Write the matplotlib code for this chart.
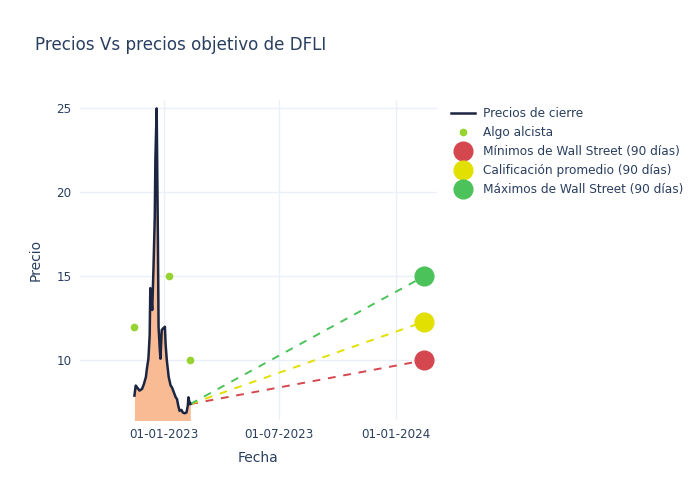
"""
Precios de cierre de DFLI frente a los precios objetivo de analistas.
"""

import matplotlib

matplotlib.use("Agg")
import matplotlib.dates as mdates
import matplotlib.pyplot as plt
import numpy as np


close_dates = [
    "2022-11-15", "2022-11-17", "2022-11-19", "2022-11-23", "2022-11-27",
    "2022-11-30", "2022-12-03", "2022-12-05", "2022-12-07", "2022-12-09",
    "2022-12-10", "2022-12-11", "2022-12-12", "2022-12-13", "2022-12-15",
    "2022-12-17", "2022-12-18", "2022-12-20", "2022-12-21", "2022-12-22",
    "2022-12-23", "2022-12-25", "2022-12-26", "2022-12-28", "2022-12-30",
    "2023-01-02", "2023-01-03", "2023-01-05", "2023-01-08", "2023-01-11",
    "2023-01-13", "2023-01-16", "2023-01-19", "2023-01-21", "2023-01-23",
    "2023-01-25", "2023-01-28", "2023-01-30", "2023-02-02", "2023-02-05",
    "2023-02-07", "2023-02-08", "2023-02-09", "2023-02-11",
]
close_prices = [
    7.9, 8.5, 8.4, 8.2, 8.3,
    8.6, 9.0, 9.6, 10.1, 11.5,
    14.3, 14.2, 13.5, 13.0, 15.5,
    18.5, 22.0, 25.0, 21.0, 17.0,
    12.0, 10.6, 10.1, 11.8, 11.9,
    12.0, 11.0, 10.0, 9.0, 8.5,
    8.4, 8.1, 7.8, 7.7, 7.3,
    7.0, 7.05, 6.9, 6.85, 6.9,
    7.3, 7.8, 7.6, 7.4,
]

signal_dates = ["2022-11-14", "2023-01-08", "2023-02-11"]
signal_prices = [12.0, 15.0, 10.0]

target_date = "2024-02-14"
target_labels = [
    "Mínimos de Wall Street (90 días)",
    "Calificación promedio (90 días)",
    "Máximos de Wall Street (90 días)",
]
target_prices = [10.0, 12.3, 15.0]
target_colors = ["#d5474f", "#e2e000", "#4cc25a"]

TEXT = "#2a3f5f"
GRID = "#ebf0f8"


def main():
    dates = np.array(close_dates, dtype="datetime64[D]")
    prices = np.array(close_prices)
    plt.rcParams["font.family"] = ["DejaVu Sans"]

    fig = plt.figure(figsize=(7, 5), dpi=100)
    ax = fig.add_axes([0.114, 0.16, 0.51, 0.64])

    ax.fill_between(dates, prices, 0, color="#f8bb93", linewidth=0, zorder=1)
    ax.plot(dates, prices, color="#1c2541", linewidth=1.8, label="Precios de cierre", zorder=3)
    ax.plot(np.array(signal_dates, dtype="datetime64[D]"), signal_prices, "o",
            color="#96d230", markersize=4.5, linestyle="none", label="Algo alcista", zorder=4)

    last_date = dates[-1]
    last_price = prices[-1]
    tdate = np.datetime64(target_date)
    for label, value, color in zip(target_labels, target_prices, target_colors):
        ax.plot([last_date, tdate], [last_price, value], linestyle=(0, (4, 4)),
                color=color, linewidth=1.4, zorder=2)
        ax.plot([tdate], [value], "o", color=color, markersize=13.5,
                linestyle="none", label=label, zorder=5)

    ax.set_xlim(np.datetime64("2022-08-21"), np.datetime64("2024-03-05"))
    ax.set_ylim(6.45, 25.5)
    ax.set_yticks([10, 15, 20, 25])
    ax.set_xticks(np.array(["2023-01-01", "2023-07-01", "2024-01-01"], dtype="datetime64[D]"))
    ax.xaxis.set_major_formatter(mdates.DateFormatter("%d-%m-%Y"))

    ax.grid(True, color=GRID, linewidth=1.0, zorder=0)
    ax.set_axisbelow(True)
    for spine in ax.spines.values():
        spine.set_visible(False)
    ax.tick_params(length=0, labelsize=8.6, colors=TEXT, pad=6)

    ax.set_xlabel("Fecha", fontsize=10, color=TEXT, labelpad=7)
    ax.set_ylabel("Precio", fontsize=10, color=TEXT, labelpad=10)
    fig.text(0.05, 0.91, "Precios Vs precios objetivo de DFLI", fontsize=12.1,
             color=TEXT, va="center")

    handles, labels = ax.get_legend_handles_labels()
    fig.legend(handles, labels, loc="upper left", bbox_to_anchor=(0.637, 0.795),
               frameon=False, fontsize=8.7, labelcolor=TEXT, handlelength=2.0,
               handletextpad=0.65, labelspacing=0.5, borderaxespad=0)

    fig.savefig("out.png", dpi=100, facecolor="white")


if __name__ == "__main__":
    main()
